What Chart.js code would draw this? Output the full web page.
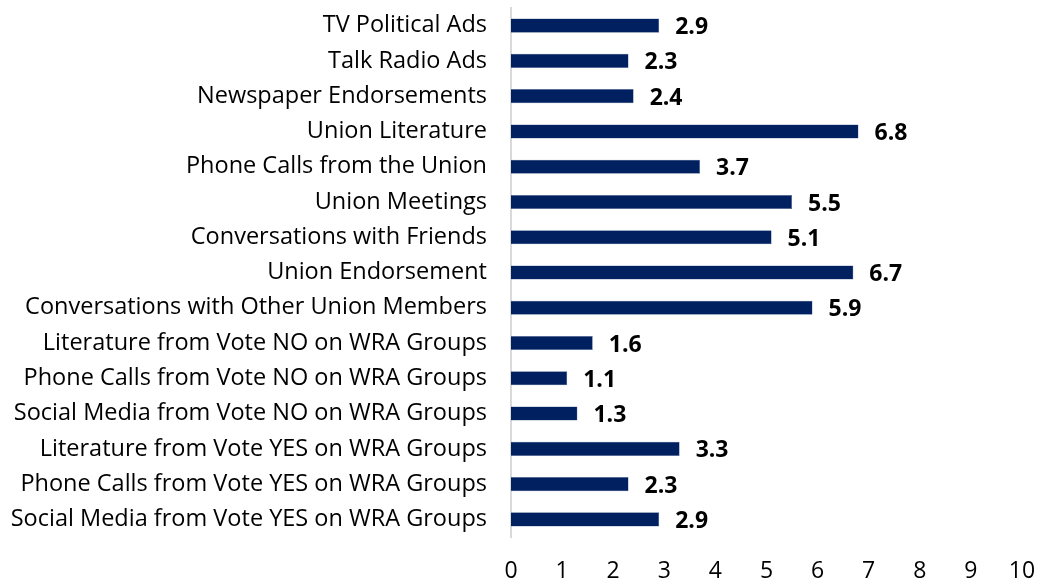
<!DOCTYPE html>
<html>
<head>
<meta charset="utf-8">
<script src="https://cdn.jsdelivr.net/npm/chart.js@4"></script>
<style>
  body { margin: 0; background: #fff; }
  #wrap { width: 1041px; height: 583px; }
</style>
</head>
<body>
<div id="wrap"><canvas id="chart" width="1041" height="583"></canvas></div>
<script>
// Categories listed top to bottom as in the chart
const categories = [
    'TV Political Ads',
    'Talk Radio Ads',
    'Newspaper Endorsements',
    'Union Literature',
    'Phone Calls from the Union',
    'Union Meetings',
    'Conversations with Friends',
    'Union Endorsement',
    'Conversations with Other Union Members',
    'Literature from Vote NO on WRA Groups',
    'Phone Calls from Vote NO on WRA Groups',
    'Social Media from Vote NO on WRA Groups',
    'Literature from Vote YES on WRA Groups',
    'Phone Calls from Vote YES on WRA Groups',
    'Social Media from Vote YES on WRA Groups'
];
const scores = [2.9, 2.3, 2.4, 6.8, 3.7, 5.5, 5.1, 6.7, 5.9, 1.6, 1.1, 1.3, 3.3, 2.3, 2.9];
const xMin = 0;
const xMax = 10;

const fontFamily = '"Open Sans", Lato, sans-serif';

// draws the bold value to the right of each bar
const valueLabels = {
    id: 'valueLabels',
    afterDatasetsDraw(chart) {
        const ctx = chart.ctx;
        const meta = chart.getDatasetMeta(0);
        ctx.save();
        ctx.font = 'bold 23px ' + fontFamily;
        ctx.fillStyle = '#000';
        ctx.textAlign = 'left';
        ctx.textBaseline = 'middle';
        meta.data.forEach((bar, i) => {
            ctx.fillText(scores[i].toFixed(1), bar.x + 16, bar.y + 2);
        });
        ctx.restore();
    }
};

new Chart(document.getElementById('chart'), {
    type: 'bar',
    data: {
        labels: categories,
        datasets: [{
            data: scores,
            backgroundColor: '#002060',
            borderColor: '#5a6f9c',
            borderWidth: 0.5,
            categoryPercentage: 1,
            barPercentage: 0.4
        }]
    },
    options: {
        indexAxis: 'y',
        responsive: false,
        animation: false,
        layout: { padding: { top: 8, right: 19, bottom: 0, left: 0 } },
        plugins: {
            legend: { display: false },
            tooltip: { enabled: false }
        },
        scales: {
            x: {
                min: xMin,
                max: xMax,
                ticks: {
                    stepSize: 1,
                    color: '#000',
                    padding: 21,
                    font: { family: fontFamily, size: 23 }
                },
                grid: { display: false, drawTicks: false },
                border: { display: false },
                afterFit(scale) {
                    scale.height = 46;
                    scale.paddingLeft = 0;
                    scale.paddingRight = 0;
                }
            },
            y: {
                ticks: {
                    color: '#000',
                    padding: 24,
                    font: { family: fontFamily, size: 23.5 }
                },
                grid: { display: false, drawTicks: false },
                border: { display: true, color: '#d9d9d9', width: 2 },
                afterFit(scale) {
                    scale.width = 511;
                    scale.paddingTop = 0;
                    scale.paddingBottom = 0;
                }
            }
        }
    },
    plugins: [valueLabels]
});
</script>
</body>
</html>
